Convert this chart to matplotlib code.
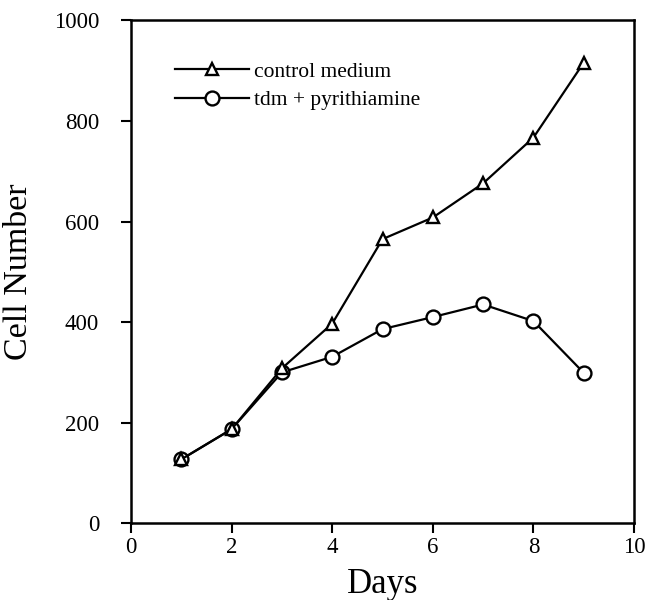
import numpy as np
import matplotlib.pyplot as plt

plt.rcParams['font.family'] = ['Liberation Serif', 'DejaVu Serif']

days = [1, 2, 3, 4, 5, 6, 7, 8, 9]
control = [127, 187, 308, 397, 565, 608, 676, 767, 916]
tdm_pyr = [127, 187, 300, 331, 386, 410, 435, 402, 299]

fig = plt.figure(figsize=(6.47, 6.0), dpi=100)
ax = fig.add_axes([0.2025, 0.128, 0.7775, 0.838])

ax.plot(days, control, color='black', lw=1.6, marker='^', ms=9,
        mfc='white', mec='black', mew=1.7, label='control medium', zorder=3)
ax.plot(days, tdm_pyr, color='black', lw=1.6, marker='o', ms=10,
        mfc='white', mec='black', mew=1.7, label='tdm + pyrithiamine', zorder=2)

ax.set_xlim(0, 10)
ax.set_ylim(0, 1000)
ax.set_xticks(np.arange(0, 11, 2))
ax.set_yticks(np.arange(0, 1001, 200))
ax.tick_params(direction='out', length=7, width=1.5, labelsize=16.5)
ax.tick_params(axis='x', pad=3)
ax.tick_params(axis='y', pad=16)
for s in ax.spines.values():
    s.set_linewidth(1.8)

ax.set_xlabel('Days', fontsize=25, labelpad=7)
ax.set_ylabel('Cell Number', fontsize=24.5, labelpad=14)

ax.legend(loc='upper left', bbox_to_anchor=(0.07, 0.935), frameon=False,
          fontsize=15.5, handlelength=3.45, handletextpad=0.23, labelspacing=0.4,
          borderaxespad=0)

fig.savefig('out.png', dpi=100)
